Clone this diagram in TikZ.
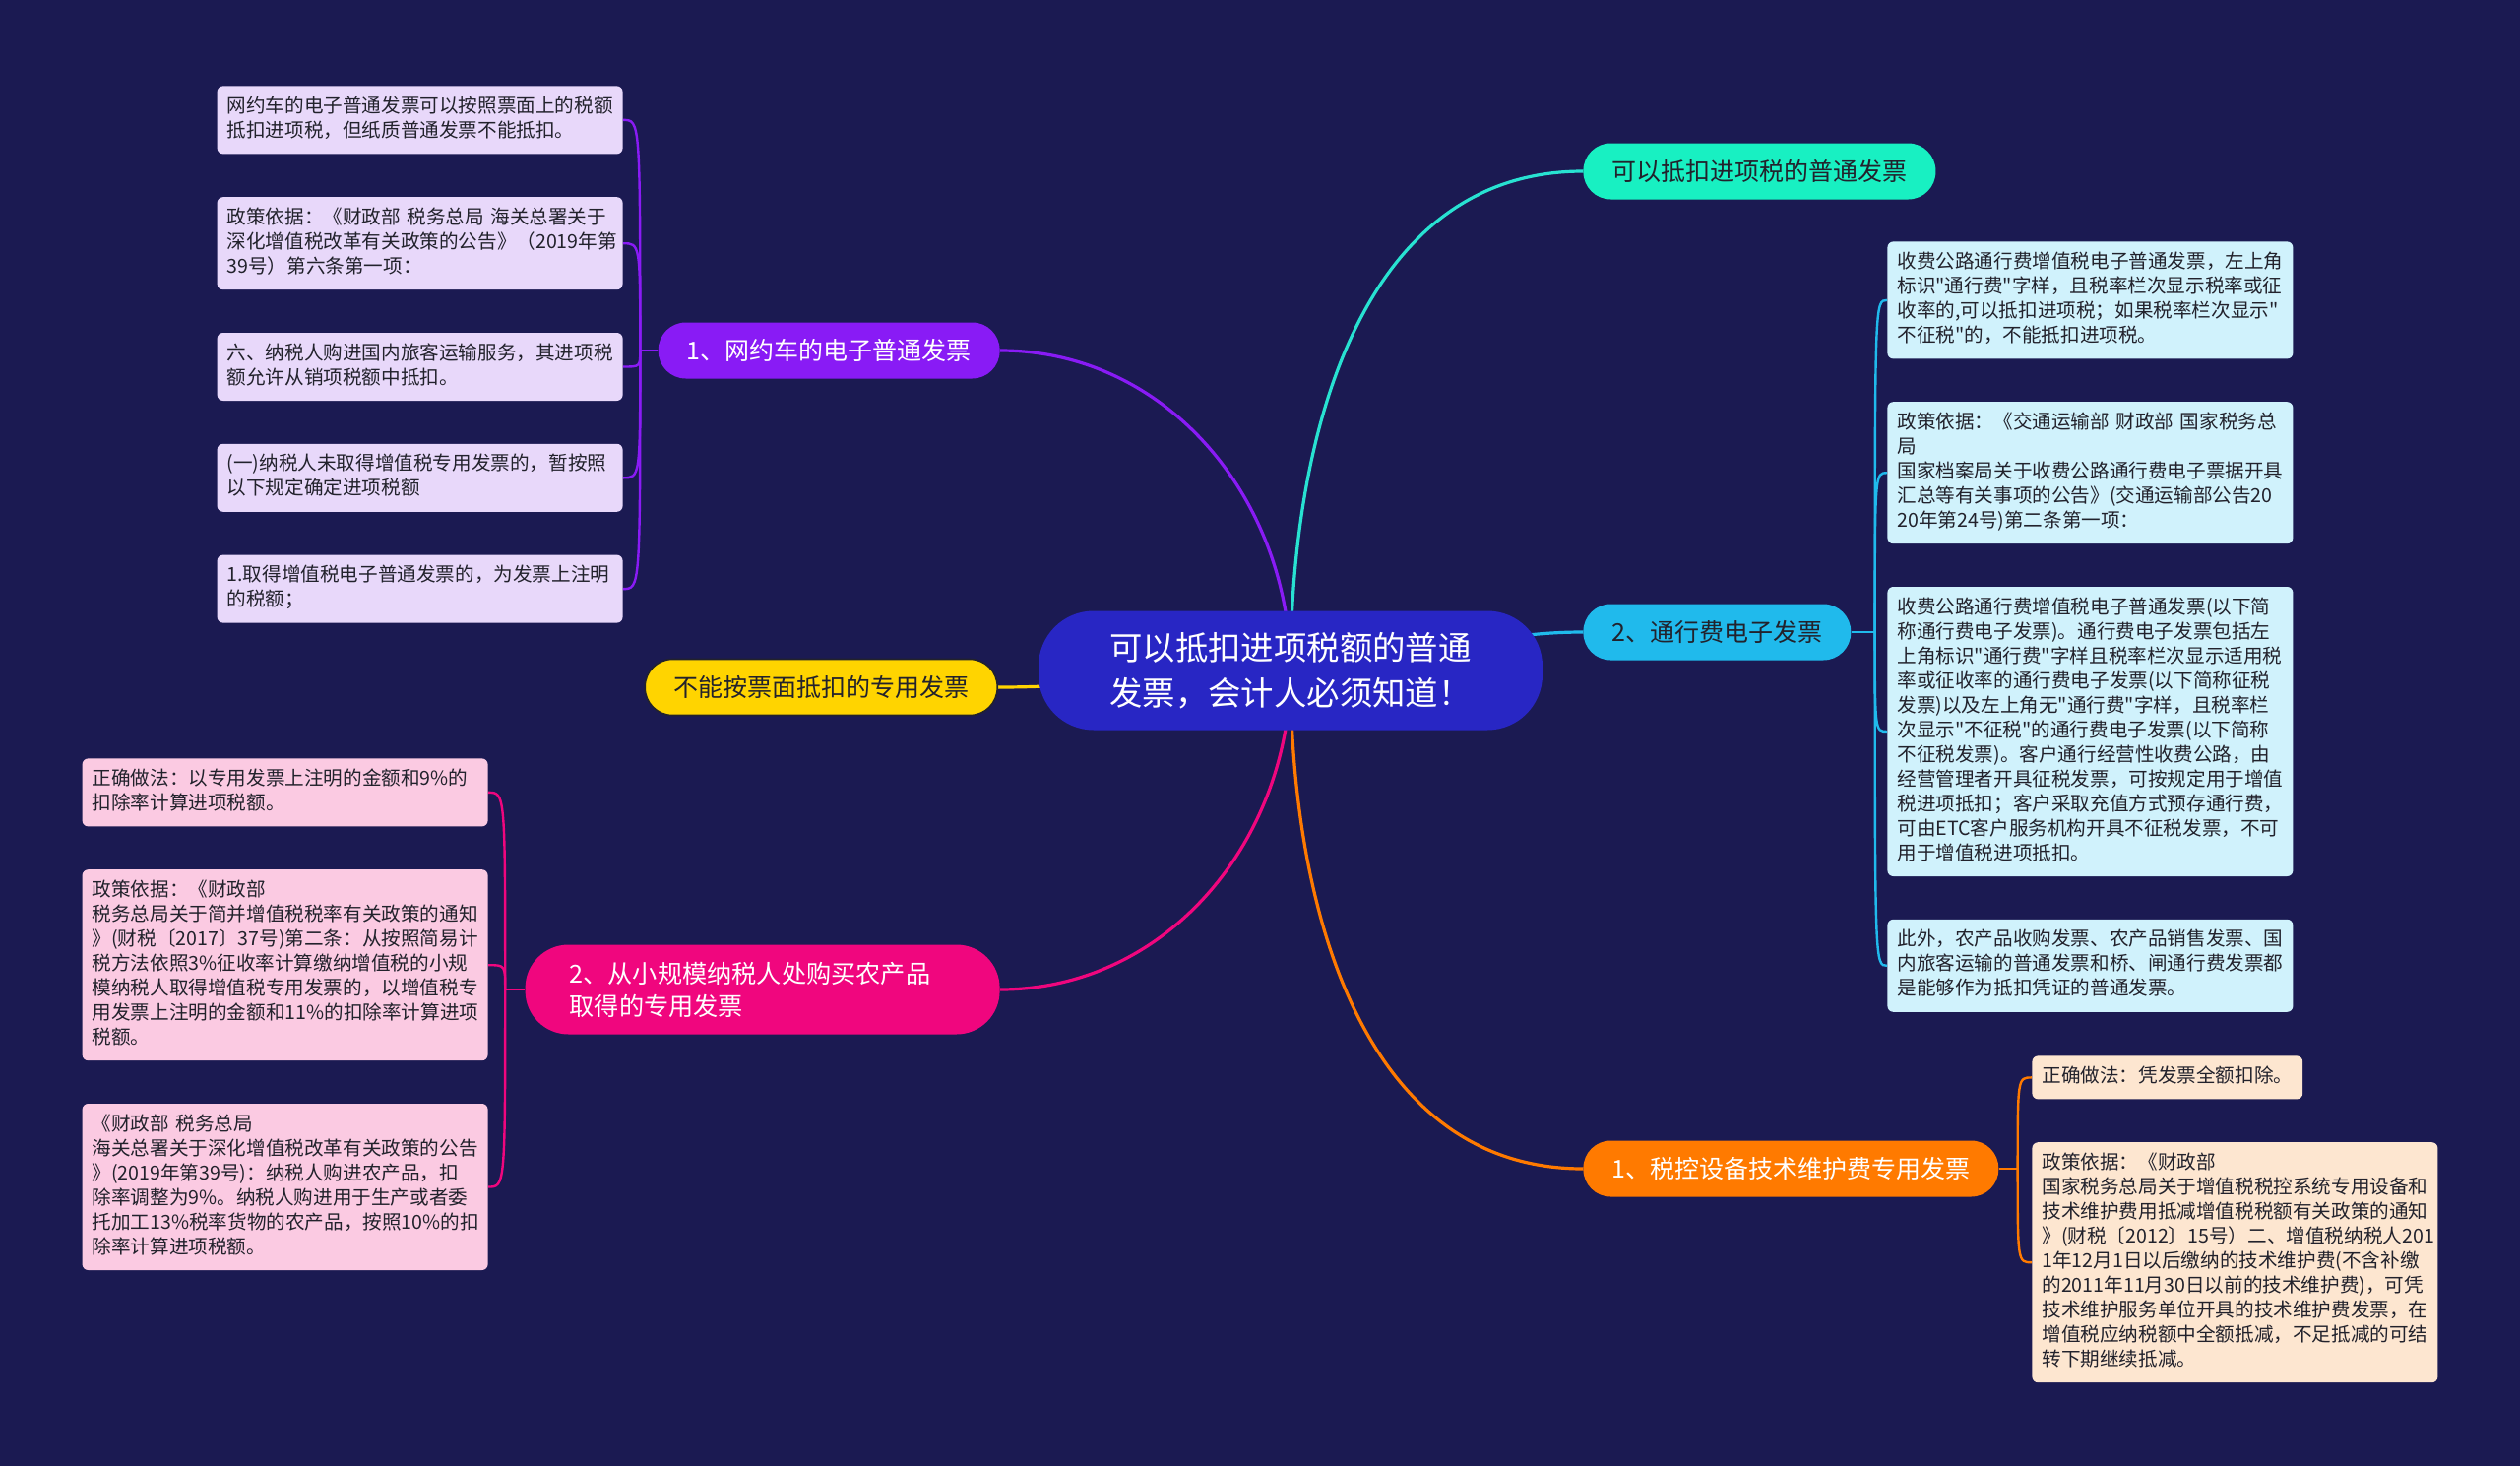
\documentclass[tikz,border=0pt]{standalone}
\usepackage{fontspec}
\setmainfont{Noto Sans CJK SC}[Ligatures=TeXOff]
\usepackage{tikz}
\usetikzlibrary{positioning}
\setlength{\parindent}{0pt}
\definecolor{bgnavy}{RGB}{27,26,82}
\definecolor{rootblue}{RGB}{40,38,196}
\definecolor{grape}{RGB}{137,27,245}
\definecolor{lilac}{RGB}{232,216,250}
\definecolor{mint}{RGB}{24,240,194}
\definecolor{mintline}{RGB}{40,226,210}
\definecolor{sky}{RGB}{32,186,236}
\definecolor{icecyan}{RGB}{208,242,252}
\definecolor{amber}{RGB}{255,122,0}
\definecolor{peach}{RGB}{253,230,208}
\definecolor{gold}{RGB}{255,212,0}
\definecolor{rose}{RGB}{240,6,126}
\definecolor{blush}{RGB}{251,202,226}
\definecolor{inkdark}{RGB}{34,34,44}
\pgfdeclarelayer{bg}
\pgfdeclarelayer{edges}
\pgfsetlayers{bg,edges,main}

\begin{document}
\begin{tikzpicture}[
        x=0.5pt, y=-0.5pt,
        node distance=21.5pt,
        root/.style={rectangle, fill=rootblue, text=white, rounded corners=28pt, align=left, minimum width=256pt, minimum height=60.5pt, font=\fontsize{16.7}{23}\selectfont},
        branch/.style={rectangle, rounded corners=14pt, inner xsep=14.5pt, minimum height=28.5pt, font=\fontsize{12.5}{15}\selectfont},
        leaf/.style={rectangle, rounded corners=3pt, align=left, inner xsep=5pt, inner ysep=4.75pt, text=inkdark, font=\fontsize{9.8}{12.5}\selectfont, execute at begin node=\strut, execute at end node=\strut},
        wideleaf/.style={leaf, text width=196pt},
        link/.style={line width=1.6pt},
        twig/.style={line width=1.2pt}
    ]
        \begin{pgfonlayer}{bg}
            \fill[bgnavy] (0,0) rectangle (2560,1489);
        \end{pgfonlayer}
        \useasboundingbox (0,0) rectangle (2560,1489);

        % centre and main branches
        \node [root] (root) at (1311,681) {可以抵扣进项税额的普通\\发票，会计人必须知道！};
        \node [branch, fill=mint, text=inkdark, anchor=west] (ptfp) at (1608,174) {可以抵扣进项税的普通发票};
        \node [branch, fill=sky, text=inkdark, anchor=west] (txf) at (1608,642) {2、通行费电子发票};
        \node [branch, fill=amber, text=white, anchor=west] (skwh) at (1608,1187) {1、税控设备技术维护费专用发票};
        \node [branch, fill=grape, text=white, anchor=east] (wyc) at (1016,356) {1、网约车的电子普通发票};
        \node [branch, fill=gold, draw=inkdark, thick, text=inkdark, anchor=east] (bnpm) at (1014,698) {不能按票面抵扣的专用发票};
        \node [branch, fill=rose, text=white, anchor=east, align=left, text width=196pt, inner xsep=22.5pt, rounded corners=22pt, minimum height=45.5pt, font=\fontsize{12.6}{16.5}\selectfont] (xgm) at (1016,1005) {2、从小规模纳税人处购买农产品\\取得的专用发票};

        % leaves of 网约车
        \node [wideleaf, fill=lilac, anchor=north east] (wy1) at (633,87) {网约车的电子普通发票可以按照票面上的税额\\抵扣进项税，但纸质普通发票不能抵扣。};
        \node [wideleaf, fill=lilac, below=of wy1] (wy2) {政策依据：《财政部~税务总局~海关总署关于\\深化增值税改革有关政策的公告》（2019年第\\39号）第六条第一项：};
        \node [wideleaf, fill=lilac, below=of wy2] (wy3) {六、纳税人购进国内旅客运输服务，其进项税\\额允许从销项税额中抵扣。};
        \node [wideleaf, fill=lilac, below=of wy3] (wy4) {(一)纳税人未取得增值税专用发票的，暂按照\\以下规定确定进项税额};
        \node [wideleaf, fill=lilac, below=of wy4] (wy5) {1.取得增值税电子普通发票的，为发票上注明\\的税额；};

        % leaves of 农产品
        \node [wideleaf, fill=blush, anchor=north east] (ncp1) at (496,770) {正确做法：以专用发票上注明的金额和9\%的\\扣除率计算进项税额。};
        \node [wideleaf, fill=blush, below=of ncp1] (ncp2) {政策依据：《财政部\\税务总局关于简并增值税税率有关政策的通知\\》(财税〔2017〕37号)第二条：从按照简易计\\税方法依照3\%征收率计算缴纳增值税的小规\\模纳税人取得增值税专用发票的，以增值税专\\用发票上注明的金额和11\%的扣除率计算进项\\税额。};
        \node [wideleaf, fill=blush, below=of ncp2] (ncp3) {《财政部~税务总局\\海关总署关于深化增值税改革有关政策的公告\\》(2019年第39号)：纳税人购进农产品，扣\\除率调整为9\%。纳税人购进用于生产或者委\\托加工13\%税率货物的农产品，按照10\%的扣\\除率计算进项税额。};

        % leaves of 通行费
        \node [wideleaf, fill=icecyan, anchor=north west] (tx1) at (1917,245) {收费公路通行费增值税电子普通发票，左上角\\标识"通行费"字样，且税率栏次显示税率或征\\收率的,可以抵扣进项税；如果税率栏次显示"\\不征税"的，不能抵扣进项税。};
        \node [wideleaf, fill=icecyan, below=of tx1] (tx2) {政策依据：《交通运输部~财政部~国家税务总\\局\\国家档案局关于收费公路通行费电子票据开具\\汇总等有关事项的公告》(交通运输部公告20\\20年第24号)第二条第一项：};
        \node [wideleaf, fill=icecyan, below=of tx2] (tx3) {收费公路通行费增值税电子普通发票(以下简\\称通行费电子发票)。通行费电子发票包括左\\上角标识"通行费"字样且税率栏次显示适用税\\率或征收率的通行费电子发票(以下简称征税\\发票)以及左上角无"通行费"字样，且税率栏\\次显示"不征税"的通行费电子发票(以下简称\\不征税发票)。客户通行经营性收费公路，由\\经营管理者开具征税发票，可按规定用于增值\\税进项抵扣；客户采取充值方式预存通行费，\\可由ETC客户服务机构开具不征税发票，不可\\用于增值税进项抵扣。};
        \node [wideleaf, fill=icecyan, below=of tx3] (tx4) {此外，农产品收购发票、农产品销售发票、国\\内旅客运输的普通发票和桥、闸通行费发票都\\是能够作为抵扣凭证的普通发票。};

        % leaves of 税控设备
        \node [leaf, fill=peach, anchor=north west] (sk1) at (2064,1072) {正确做法：凭发票全额扣除。};
        \node [wideleaf, fill=peach, below=of sk1.south west, anchor=north west] (sk2) {政策依据：《财政部\\国家税务总局关于增值税税控系统专用设备和\\技术维护费用抵减增值税税额有关政策的通知\\》(财税〔2012〕15号）二、增值税纳税人201\\1年12月1日以后缴纳的技术维护费(不含补缴\\的2011年11月30日以前的技术维护费)，可凭\\技术维护服务单位开具的技术维护费发票，在\\增值税应纳税额中全额抵减，不足抵减的可结\\转下期继续抵减。};

        \coordinate [left=9pt of wyc.west] (wyhub);
        \coordinate [left=10pt of xgm.west] (ncphub);
        \coordinate [right=12pt of txf.east] (txhub);
        \coordinate [right=9.5pt of skwh.east] (skhub);

        \begin{pgfonlayer}{edges}
            \draw [link, grape] (root.center) to[out=90, in=0] (wyc.east);
            \draw [link, mintline] (root.center) to[out=90, in=180] (ptfp.west);
            \draw [link, sky] (root.center) to[out=0, in=180] (txf.west);
            \draw [link, gold] (root.center) to[out=180, in=0] (bnpm.east);
            \draw [link, rose] (root.center) to[out=-90, in=0] (xgm.east);
            \draw [link, amber] (root.center) to[out=-90, in=180] (skwh.west);

            \draw [twig, grape] (wyc.west) -- (wyhub);
            \foreach \nm in {wy1,wy2,wy3,wy4,wy5}
                \draw [twig, grape] (wyhub) .. controls (wyhub |- \nm.east) .. (\nm.east);
            \draw [twig, rose] (xgm.west) -- (ncphub);
            \foreach \nm in {ncp1,ncp2,ncp3}
                \draw [twig, rose] (ncphub) .. controls (ncphub |- \nm.east) .. (\nm.east);
            \draw [twig, sky] (txf.east) -- (txhub);
            \foreach \nm in {tx1,tx2,tx3,tx4}
                \draw [twig, sky] (txhub) .. controls (txhub |- \nm.west) .. (\nm.west);
            \draw [twig, amber] (skwh.east) -- (skhub);
            \foreach \nm in {sk1,sk2}
                \draw [twig, amber] (skhub) .. controls (skhub |- \nm.west) .. (\nm.west);
        \end{pgfonlayer}
    \end{tikzpicture}
\end{document}
